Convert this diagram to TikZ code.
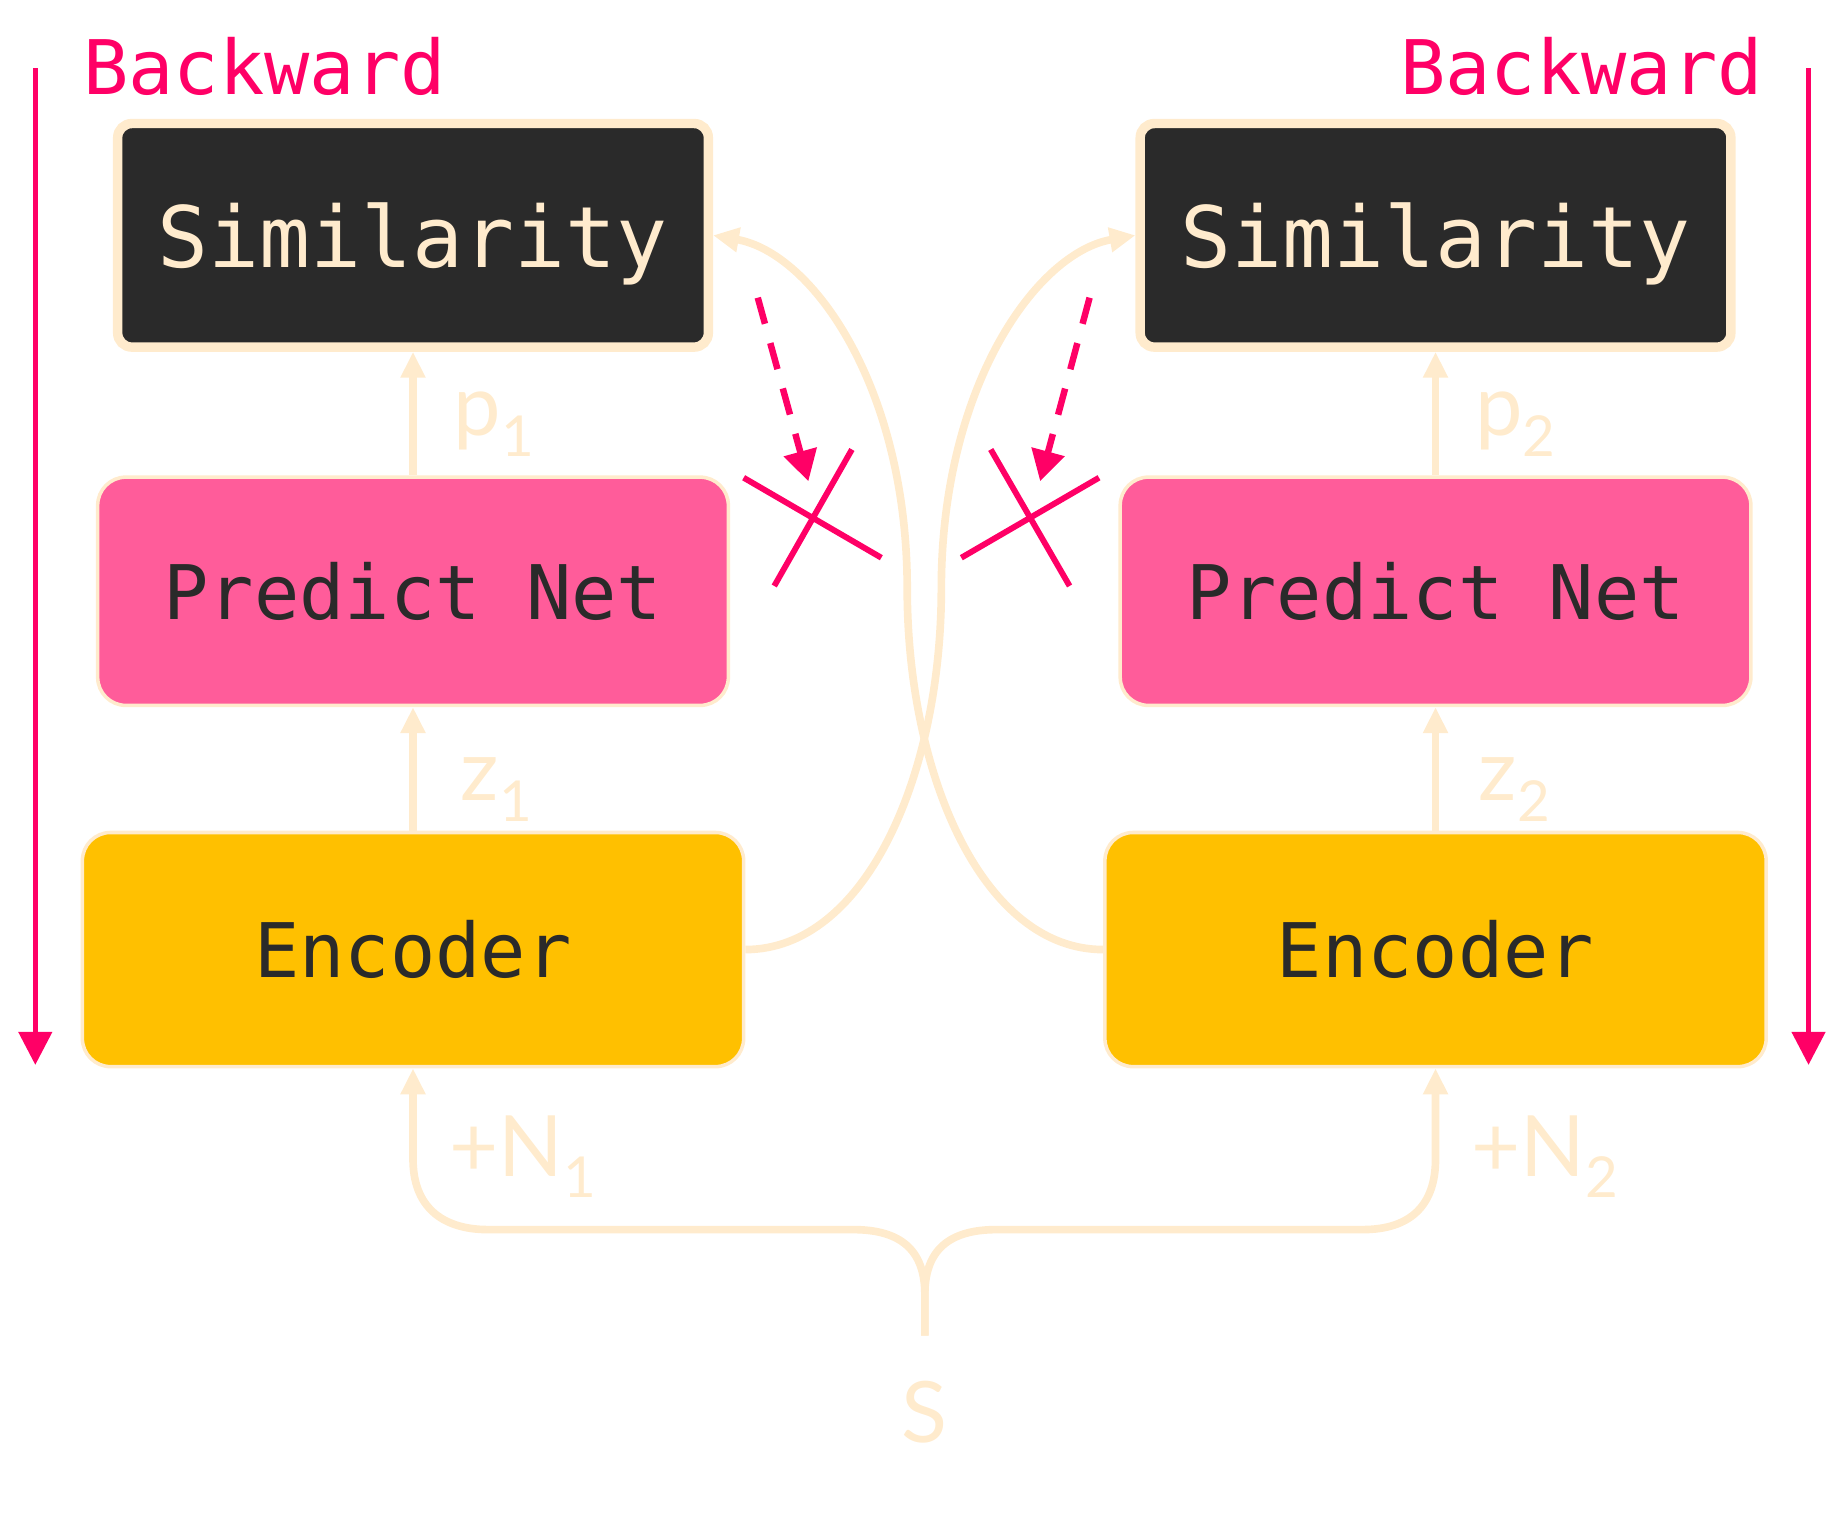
\documentclass[tikz,border=0pt]{standalone}
\usepackage{fontspec}
\usetikzlibrary{arrows.meta}
\newfontfamily\codefont{DejaVu Sans Mono}
\newfontfamily\labelfont{Lato}
\definecolor{cream}{RGB}{255,235,205}
\definecolor{hotred}{RGB}{255,0,102}
\definecolor{netpink}{RGB}{255,92,154}
\definecolor{encgold}{RGB}{255,192,0}
\definecolor{boxdark}{RGB}{42,42,42}
\newcommand{\lowsub}[1]{\raisebox{-9pt}{\fontsize{24}{24}\selectfont #1}}

\tikzset{every picture/.style={line width=0.75pt}}
\tikzset{
  simbox/.style={draw=cream, line width=4pt, fill=boxdark, rounded corners=6pt, minimum width=251pt, minimum height=95pt, inner sep=0pt, text=cream, font=\codefont\fontsize{36}{36}\selectfont},
  netbox/.style={draw=cream, line width=1.5pt, fill=netpink, rounded corners=12pt, minimum width=268pt, minimum height=97pt, inner sep=0pt, text=boxdark, font=\codefont\fontsize{32}{32}\selectfont},
  encbox/.style={netbox, fill=encgold, minimum width=281pt, minimum height=99.5pt},
  flow/.style={draw=cream, line width=3.25pt, -{Triangle[length=11pt,width=10pt]}},
  flowlabel/.style={text=cream, font=\labelfont\fontsize{36}{36}\selectfont, inner sep=0pt},
  backward/.style={draw=hotred, line width=2pt, -{Triangle[length=14pt,width=14pt]}},
  backlabel/.style={text=hotred, font=\codefont\fontsize{32}{32}\selectfont, inner sep=0pt},
  stopgrad/.style={draw=hotred, line width=2.75pt, dash pattern=on 11.5pt off 8.5pt, -{Triangle[length=13pt,width=14pt]}},
  cut/.style={draw=hotred, line width=2.5pt}
}

\begin{document}
\begin{tikzpicture}[x=0.5pt,y=0.5pt,yscale=-1,xscale=1]
\useasboundingbox (0,0) rectangle (1568,1293); %set diagram to the reference frame

% Boxes
\node[simbox] (sim1) at (351,200) {\raisebox{-13.5pt}[0pt][0pt]{Similarity}};
\node[simbox] (sim2) at (1220,200) {\raisebox{-13.5pt}[0pt][0pt]{Similarity}};
\node[netbox] (pred1) at (351,502.5) {Predict Net};
\node[netbox] (pred2) at (1220,502.5) {Predict Net};
\node[encbox] (enc1) at (351,807) {Encoder};
\node[encbox] (enc2) at (1220,807) {Encoder};

% Text Node
\node[backlabel, anchor=base west] (back1label) at (70,80) {Backward};
\node[backlabel, anchor=base east] (back2label) at (1499,80) {Backward};
\node[flowlabel, anchor=base west] (p1) at (385,370) {p\lowsub{1}};
\node[flowlabel, anchor=base west] (p2) at (1253,370) {p\lowsub{2}};
\node[flowlabel, anchor=base west] (z1) at (391,680) {z\lowsub{1}};
\node[flowlabel, anchor=base west] (z2) at (1256,680) {z\lowsub{2}};
\node[flowlabel, anchor=base west] (n1) at (381,1000) {+N\lowsub{1}};
\node[flowlabel, anchor=base west] (n2) at (1250,1000) {+N\lowsub{2}};
\node[flowlabel, anchor=base] (slabel) at (786,1226) {S};

% Forward arrows
\draw[flow] (enc1.north) -- (pred1.south);
\draw[flow] (pred1.north) -- (sim1.south);
\draw[flow] (enc2.north) -- (pred2.south);
\draw[flow] (pred2.north) -- (sim2.south);

% Cross links
\draw[flow] (enc1.east) .. controls (735,807) and (800,660) .. (800,500) .. controls (800,330) and (880,215) .. (sim2.west);
\draw[flow] (enc2.west) .. controls (836,807) and (771,660) .. (771,500) .. controls (771,330) and (691,215) .. (sim1.east);

% Input split
\coordinate (split) at (786,1135);
\draw[flow] (split) -- (786,1100) .. controls (786,1062) and (765,1045) .. (725,1045) -- (415,1045) .. controls (375,1045) and (351,1025) .. (351,985) -- (enc1.south);
\draw[flow] (split) -- (786,1100) .. controls (786,1062) and (807,1045) .. (847,1045) -- (1158,1045) .. controls (1198,1045) and (1220,1025) .. (1220,985) -- (enc2.south);

% Backward arrows
\coordinate (back1top) at (30,58);
\coordinate (back1end) at (30,905);
\coordinate (back2top) at (1537,58);
\coordinate (back2end) at (1537,905);
\draw[backward] (back1top) -- (back1end);
\draw[backward] (back2top) -- (back2end);

% Stop gradient
\coordinate (stop1) at (644,253);
\coordinate (cut1) at (687,409);
\coordinate (stop2) at (926,253);
\coordinate (cut2) at (884,409);
\draw[stopgrad] (stop1) -- (cut1);
\draw[stopgrad] (stop2) -- (cut2);
\draw[cut] (632,406) -- (749,474);
\draw[cut] (658,498) -- (724,382);
\draw[cut] (817,474) -- (934,406);
\draw[cut] (842,382) -- (909,498);

\end{tikzpicture}
\end{document}
